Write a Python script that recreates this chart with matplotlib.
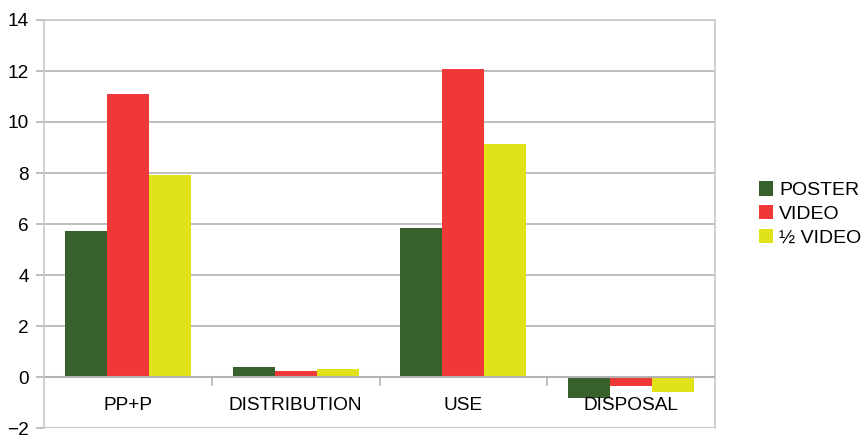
import matplotlib
matplotlib.use('Agg')
from matplotlib import pyplot as plt
import numpy as np

categories = ['PP+P', 'DISTRIBUTION', 'USE', 'DISPOSAL']
series_names = ['POSTER', 'VIDEO', '½ VIDEO']
poster = [5.73, 0.40, 5.84, -0.81]
video = [11.1, 0.25, 12.08, -0.34]
half_video = [7.92, 0.33, 9.14, -0.58]
colors = ['#38602b', '#f03838', '#e0e31a']

plt.rcParams['font.family'] = ['Liberation Sans', 'DejaVu Sans']

fig = plt.figure(figsize=(8.67, 4.36), dpi=100)
ax = fig.add_axes([44 / 867, 1 - 428 / 436, (715 - 44) / 867, (428 - 20) / 436])

x = np.arange(len(categories))
w = 0.25
for i, (vals, name) in enumerate(zip([poster, video, half_video], series_names)):
    ax.bar(x + (i - 1) * w, vals, w, color=colors[i], label=name, zorder=3)

ax.set_xlim(-0.5, 3.5)
ax.set_ylim(-2, 14)
ax.set_yticks(range(-2, 15, 2))
ax.yaxis.grid(True, color='#b3b3b3', linewidth=1.2, zorder=0)
ax.tick_params(axis='y', length=6, color='#b3b3b3', width=1.2, labelsize=13.7, pad=5)

for s in ['top', 'right', 'left']:
    ax.spines[s].set_color('#c8c8c8')
    ax.spines[s].set_linewidth(1.2)
ax.spines['bottom'].set_visible(False)
ax.axhline(0, color='#b3b3b3', linewidth=1.5, zorder=4)
ax.axhline(-2, color='#c8c8c8', linewidth=1.5, zorder=4)

ax.set_xticks([0.5, 1.5, 2.5])
ax.set_xticklabels([])
ax.tick_params(axis='x', length=0)
for xb in [0.5, 1.5, 2.5]:
    ax.plot([xb, xb], [-0.32, 0], color='#b3b3b3', linewidth=1.2, zorder=4)
for xi, c in zip(x, categories):
    ax.text(xi, -1.1, c, ha='center', va='center', fontsize=13.7, zorder=5)

fig.legend(loc='center left', bbox_to_anchor=(751 / 867, 1 - 214 / 436),
           frameon=False, fontsize=14, handlelength=0.75, handleheight=0.75,
           handletextpad=0.3, labelspacing=0.3, borderaxespad=0)

plt.savefig('out.png', dpi=100)
